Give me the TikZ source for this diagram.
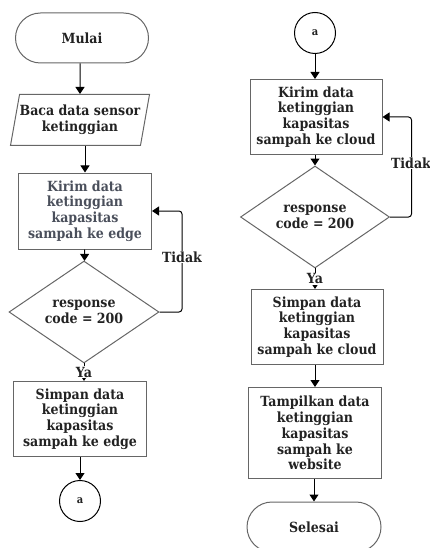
\documentclass[tikz,border=0pt]{standalone}
\usepackage{fontspec}
\setmainfont{DejaVu Serif Condensed}
\usetikzlibrary{arrows.meta,shapes.geometric}
\definecolor{garis}{HTML}{666666}
\definecolor{teks}{HTML}{222222}
\definecolor{teksabu}{HTML}{4A4F5B}

\begin{document}
\begin{tikzpicture}[x=1pt,y=-1pt,
    every node/.style={font=\bfseries\fontsize{14}{15.8}\selectfont,text=teks,align=center},
    terminal/.style={draw=garis,line width=1pt,rounded corners=25pt,minimum width=133pt,minimum height=50pt,inner sep=0pt},
    masukan/.style={draw=garis,line width=1pt,trapezium,trapezium left angle=73,trapezium right angle=107,trapezium stretches body,minimum width=139pt,minimum height=51pt,inner sep=0pt},
    proses/.style={draw=garis,line width=1pt,minimum width=133pt,minimum height=75pt,inner sep=0pt},
    cek/.style={draw=garis,line width=1pt,diamond,minimum width=150pt,minimum height=71pt,inner sep=0pt},
    sambung/.style={draw=black,line width=1pt,circle,minimum size=41pt,inner sep=0pt,font=\bfseries\fontsize{11}{12}\selectfont},
    lbl/.style={fill=white,inner sep=1pt},
    arr/.style={draw=black,line width=1pt,-{Triangle[length=7pt,width=9pt]}}]
      \useasboundingbox (0,0) rectangle (430,548);
      % kolom kiri
      \node[terminal] (mulai) at (82,38) {Mulai};
      \node[masukan] (baca) at (80,120) {Baca data sensor\\ketinggian};
      \node[proses,text=teksabu,minimum height=76pt] (kirimE) at (85,211) {Kirim data\\ketinggian\\kapasitas\\sampah ke edge};
      \node[cek] (cekE) at (84,312) {response\\code = 200};
      \node[proses] (simpanE) at (80,419) {Simpan data\\ketinggian\\kapasitas\\sampah ke edge};
      \node[sambung] (a1) at (80,501) {a};
      % kolom kanan
      \node[sambung] (a2) at (315,33) {a};
      \node[proses,minimum width=132pt] (kirimC) at (316,117) {Kirim data\\ketinggian\\kapasitas\\sampah ke cloud};
      \node[cek,minimum width=149pt,minimum height=70pt] (cekC) at (315,217) {response\\code = 200};
      \node[proses,minimum width=132pt] (simpanC) at (317,327) {Simpan data\\ketinggian\\kapasitas\\sampah ke cloud};
      \node[proses,minimum height=91pt] (tampil) at (315,433) {Tampilkan data\\ketinggian\\kapasitas\\sampah ke\\website};
      \node[terminal,minimum width=134pt] (selesai) at (314,527) {Selesai};

      \draw[arr] (mulai.south -| baca.north) -- (baca); \draw[arr] (baca.south -| kirimE.north) -- (kirimE); \draw[arr] (kirimE) -- (cekE);
      \draw[arr] (cekE.south) -- node[lbl] (ya1) {Ya} (simpanE.north -| cekE.south); \draw[arr] (simpanE) -- (a1);
      \draw[arr,rounded corners=3pt] (cekE.east) -| ([xshift=30pt]kirimE.east) -- (kirimE.east);
      \node[lbl] (tidak1) at (182,257) {Tidak};
      \draw[arr] (a2) -- (kirimC.north -| a2.south); \draw[arr] (kirimC.south -| cekC.north) -- (cekC);
      \draw[arr] (cekC.south) -- node[lbl] (ya2) {Ya} (simpanC.north -| cekC.south); \draw[arr] (simpanC.south -| tampil.north) -- (tampil); \draw[arr] (tampil.south -| selesai.north) -- (selesai);
      \draw[arr,rounded corners=3pt] (cekC.east) -| ([xshift=29pt]kirimC.east) -- (kirimC.east);
      \node[lbl] (tidak2) at (411,163) {Tidak};
\end{tikzpicture}
\end{document}
